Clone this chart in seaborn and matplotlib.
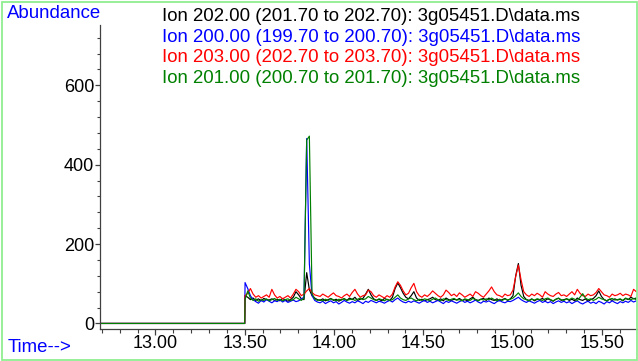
import numpy as np
import pandas as pd
import matplotlib
matplotlib.use("Agg")
import matplotlib.pyplot as plt
from matplotlib.ticker import MultipleLocator, FormatStrFormatter
from matplotlib.patches import Rectangle
import seaborn as sns

# ---------------- data ----------------
ion_labels = [
    "Ion 202.00 (201.70 to 202.70): 3g05451.D\\data.ms",
    "Ion 200.00 (199.70 to 200.70): 3g05451.D\\data.ms",
    "Ion 203.00 (202.70 to 203.70): 3g05451.D\\data.ms",
    "Ion 201.00 (200.70 to 201.70): 3g05451.D\\data.ms",
]
ion_colors = ["#000000", "#0000FF", "#FF0000", "#008000"]

pre_times = [12.69, 13.50]          # detector off: flat zero signal
pre_values = [0, 0]
scan_start = 13.502                 # first scan after the solvent delay
scan_interval = 0.015               # minutes per scan

ion202 = [70, 66, 60, 64, 58, 62, 57, 63, 60, 59,
          62, 58, 61, 57, 63, 59, 56, 60, 66, 80,
          72, 62, 60, 128, 85, 70, 64, 60, 58, 62,
          57, 60, 63, 58, 61, 56, 60, 62, 58, 64,
          60, 66, 58, 61, 63, 74, 86, 72, 62, 58,
          61, 57, 63, 60, 58, 66, 88, 102, 90, 76,
          66, 62, 70, 80, 64, 58, 61, 57, 60, 62,
          66, 60, 58, 62, 57, 64, 60, 58, 61, 59,
          63, 58, 60, 57, 62, 66, 60, 58, 61, 63,
          58, 64, 60, 58, 62, 57, 60, 63, 58, 62,
          70, 120, 151, 96, 68, 60, 58, 62, 57, 61,
          60, 63, 58, 62, 59, 56, 61, 64, 58, 60,
          62, 58, 61, 57, 64, 60, 58, 62, 56, 60,
          63, 70, 82, 68, 60, 57, 61, 58, 62, 59,
          61, 57, 63, 60, 66, 62, 64]

ion200 = [103, 88, 70, 60, 55, 51, 58, 54, 60, 56,
          52, 57, 55, 60, 54, 58, 53, 56, 59, 55,
          57, 62, 66, 466, 150, 70, 58, 54, 52, 56,
          50, 54, 57, 52, 55, 49, 53, 58, 54, 51,
          55, 52, 57, 54, 50, 56, 53, 58, 55, 52,
          56, 54, 51, 55, 58, 54, 60, 64, 58, 54,
          52, 56, 53, 57, 54, 51, 55, 58, 53, 56,
          52, 55, 58, 54, 50, 56, 53, 57, 54, 51,
          55, 58, 53, 56, 52, 55, 59, 54, 51, 56,
          54, 57, 53, 50, 55, 58, 54, 52, 56, 55,
          58, 62, 66, 60, 56, 53, 57, 54, 51, 55,
          58, 53, 56, 52, 55, 50, 54, 57, 53, 56,
          52, 55, 50, 54, 57, 52, 49, 53, 56, 51,
          54, 50, 56, 53, 49, 55, 52, 57, 53, 50,
          55, 52, 56, 53, 58, 54, 57]

ion203 = [70, 76, 88, 74, 66, 70, 64, 68, 72, 66,
          86, 72, 64, 68, 62, 66, 70, 64, 74, 86,
          80, 70, 74, 82, 88, 78, 72, 70, 68, 74,
          70, 66, 72, 77, 70, 68, 64, 70, 74, 68,
          78, 86, 74, 66, 70, 72, 84, 80, 70, 66,
          72, 68, 64, 70, 66, 74, 92, 105, 96, 82,
          72, 76, 90, 101, 80, 70, 66, 72, 68, 74,
          82, 76, 70, 66, 72, 84, 78, 70, 74, 68,
          77, 72, 66, 70, 74, 68, 80, 76, 70, 66,
          74, 82, 92, 80, 72, 70, 66, 74, 70, 72,
          84, 118, 147, 110, 80, 72, 68, 74, 70, 76,
          72, 66, 80, 74, 70, 68, 74, 78, 70, 72,
          68, 74, 80, 72, 86, 76, 70, 68, 74, 70,
          72, 78, 88, 80, 72, 70, 66, 74, 70, 72,
          76, 70, 74, 72, 68, 86, 80]

ion201 = [60, 82, 64, 58, 62, 56, 60, 58, 62, 57,
          60, 63, 58, 61, 57, 60, 62, 58, 60, 66,
          62, 58, 64, 462, 472, 75, 62, 58, 60, 57,
          61, 58, 62, 60, 57, 61, 59, 63, 58, 60,
          62, 58, 61, 64, 60, 62, 68, 64, 60, 58,
          62, 60, 57, 61, 58, 60, 66, 72, 64, 60,
          58, 62, 64, 60, 57, 61, 58, 62, 60, 57,
          61, 64, 60, 57, 62, 60, 58, 61, 63, 59,
          60, 57, 62, 60, 58, 63, 60, 57, 61, 59,
          62, 60, 64, 60, 57, 61, 58, 62, 59, 61,
          64, 70, 77, 68, 62, 60, 57, 61, 59, 62,
          60, 58, 62, 64, 60, 57, 61, 63, 60, 58,
          62, 60, 64, 61, 58, 66, 75, 64, 60, 62,
          58, 61, 66, 62, 60, 57, 61, 63, 59, 60,
          62, 58, 64, 61, 60, 63, 60]

series_values = [ion202, ion200, ion203, ion201]

x_major_ticks = [13.00, 13.50, 14.00, 14.50, 15.00, 15.50]
y_major_ticks = [0, 200, 400, 600]

# ---------------- build long table ----------------
rows = []
for label, vals in zip(ion_labels, series_values):
    scan_times = scan_start + scan_interval * np.arange(len(vals))
    t = list(pre_times) + list(scan_times)
    v = list(pre_values) + list(vals)
    for k, (tt, vv) in enumerate(zip(t, v)):
        rows.append({"ion": label, "time": tt, "abundance": vv, "order": k})
df = pd.DataFrame(rows)

# ---------------- figure ----------------
sns.set_style("white")
plt.rcParams["font.family"] = ["Liberation Sans", "DejaVu Sans"]

W, H = 638, 361
fig = plt.figure(figsize=(W / 100, H / 100), dpi=100)
ax_left, ax_right, ax_top, ax_bottom = 100, 637.7, 25, 329
ax = fig.add_axes([ax_left / W, 1 - ax_bottom / H,
                   (ax_right - ax_left) / W, (ax_bottom - ax_top) / H])
ax.patch.set_alpha(0)

sns.lineplot(data=df, x="time", y="abundance", hue="ion",
             hue_order=ion_labels, palette=ion_colors,
             estimator=None, sort=False, units="ion",
             linewidth=0.85, legend=False, ax=ax)

ax.set_xlim(12.69, 15.70)
ax.set_ylim(-14, 752)
ax.set_xlabel("")
ax.set_ylabel("")

for s in ["top", "right"]:
    ax.spines[s].set_visible(False)
for s in ["left", "bottom"]:
    ax.spines[s].set_color("#404040")
    ax.spines[s].set_linewidth(0.9)

ax.set_xticks(x_major_ticks)
ax.xaxis.set_major_formatter(FormatStrFormatter("%.2f"))
ax.xaxis.set_minor_locator(MultipleLocator(0.1))
ax.set_yticks(y_major_ticks)
ax.yaxis.set_minor_locator(MultipleLocator(40))

ax.tick_params(axis="x", which="major", direction="out", length=4.0,
               width=0.9, color="#404040", pad=0.5, labelsize=13,
               labelcolor="black", bottom=True)
ax.tick_params(axis="x", which="minor", direction="out", length=2.6,
               width=0.8, color="#404040", bottom=True)
ax.tick_params(axis="y", which="major", direction="out", length=3.8,
               width=0.9, color="#404040", pad=0.5, labelsize=13,
               labelcolor="black", left=True)
ax.tick_params(axis="y", which="minor", direction="out", length=2.2,
               width=0.8, color="#404040", left=True)

# axis captions
fig.text(7 / W, 1 - 18.3 / H, "Abundance", color="#0000FF", fontsize=13.4,
         ha="left", va="baseline")
fig.text(8 / W, 1 - 352 / H, "Time-->", color="#0000FF", fontsize=13.4,
         ha="left", va="baseline")

# legend lines
legend_baselines = [20.7, 41.7, 62.3, 83.3]
for label, col, yb in zip(ion_labels, ion_colors, legend_baselines):
    fig.text(162 / W, 1 - yb / H, label, color=col, fontsize=13.4,
             ha="left", va="baseline")

# light green frame
fig.patches.append(Rectangle((2 / W, 1 / H), (637.3 - 2) / W, (359.5 - 1) / H,
                             transform=fig.transFigure, fill=False,
                             edgecolor="#90EE90", linewidth=1.3, zorder=10))

fig.savefig("out.png", dpi=100)
